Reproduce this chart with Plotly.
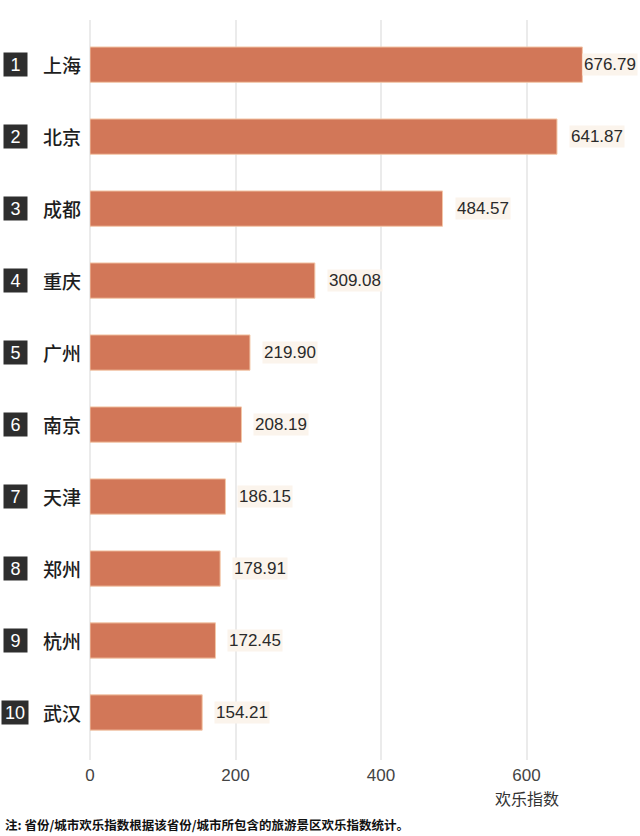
import plotly.graph_objects as go

cities = ["上海", "北京", "成都", "重庆", "广州", "南京", "天津", "郑州", "杭州", "武汉"]
ranks = ["1", "2", "3", "4", "5", "6", "7", "8", "9", "10"]
values = [676.79, 641.87, 484.57, 309.08, 219.90, 208.19, 186.15, 178.91, 172.45, 154.21]
tick_vals = [0, 200, 400, 600]
tick_text = ["0", "200", "400", "600"]

CJK = "Noto Sans CJK SC"
LAT = "Liberation Sans, Arial"

fig = go.Figure()
fig.add_trace(go.Bar(
    x=values, y=list(range(len(values))), orientation="h",
    marker=dict(color="#d27758", line=dict(color="#f3c7a8", width=1)),
    width=0.49, hoverinfo="skip",
))

ann = []
for i, (c, r, v) in enumerate(zip(cities, ranks, values)):
    ann.append(dict(x=v, y=i, xref="x", yref="y", text=f"{v:.2f}", showarrow=False,
                    xanchor="left", xshift=(0 if v > 650 else 12),
                    font=dict(family=LAT, size=17, color="#2a2a2a"),
                    bgcolor="#fbf4ec", borderpad=1))
    ann.append(dict(x=0, y=i, xref="x", yref="y", text=r, showarrow=False,
                    xanchor="center", xshift=-75, width=(26 if len(r) > 1 else 23), height=23,
                    font=dict(family=LAT, size=18, color="#ffffff"),
                    bgcolor="#2e2e2e", borderpad=0))
    ann.append(dict(x=0, y=i, xref="x", yref="y", text=c, showarrow=False,
                    xanchor="left", xshift=-49,
                    font=dict(family=CJK, size=19, color="#1e1e1e", weight=500)))

ann.append(dict(x=600, y=0, xref="x", yref="paper", yanchor="top", yshift=-24,
                text="欢乐指数", showarrow=False,
                font=dict(family=CJK, size=16, color="#333333")))
ann.append(dict(x=0, y=0, xref="paper", yref="paper", xanchor="left", yanchor="top",
                xshift=-87, yshift=-53,
                text="<b>注: 省份/城市欢乐指数根据该省份/城市所包含的旅游景区欢乐指数统计。</b>",
                showarrow=False, font=dict(family=CJK, size=12.5, color="#111111")))

fig.update_layout(
    width=640, height=836,
    margin=dict(l=90, r=0, t=20, b=76),
    paper_bgcolor="white", plot_bgcolor="white",
    showlegend=False, bargap=0.5,
    annotations=ann,
    xaxis=dict(range=[0, 756], tickvals=tick_vals, ticktext=tick_text,
               showgrid=True, gridcolor="#ebebeb", gridwidth=1.5,
               zeroline=True, zerolinecolor="#ebebeb", zerolinewidth=1.5,
               showline=False, ticks="", ticklabelstandoff=3,
               tickfont=dict(family=LAT, size=17, color="#444444"), fixedrange=True),
    yaxis=dict(range=[9.66, -0.62], showticklabels=False, showgrid=False,
               zeroline=False, showline=False, ticks="", fixedrange=True),
)

fig.write_html("out.html")
